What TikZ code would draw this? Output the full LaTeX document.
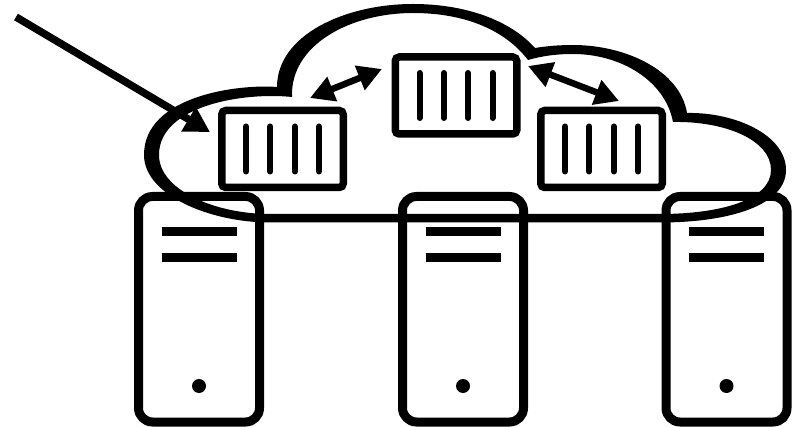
\documentclass[tikz,border=0pt]{standalone}
\usetikzlibrary{arrows.meta}
\tikzset{
  serverbox/.style={draw=black,line width=9pt,rounded corners=14pt,minimum width=121pt,minimum height=225.5pt,inner sep=0pt,outer sep=0pt},
  containerbox/.style={draw=black,line width=7.5pt,rounded corners=4pt,minimum width=121.5pt,minimum height=77pt,inner sep=0pt,outer sep=0pt},
  slat/.style={line width=6pt,line cap=round},
  serverbar/.style={line width=9pt},
  link/.style={line width=6.5pt,{Triangle[length=24pt,width=25pt]}-{Triangle[length=24pt,width=25pt]}},
  entry/.style={line width=7.5pt,-{Triangle[length=25pt,width=27pt]}},
}
\begin{document}
\begin{tikzpicture}[x=1pt,y=-1pt]
\useasboundingbox (0,0) rectangle (794,427);
% servers
\foreach \n/\x in {serverA/199,serverB/463,serverC/726.5}{
  \node[serverbox] (\n) at (\x,309.25) {};
  \draw[serverbar] ([xshift=-37.5pt,yshift=77.75pt]\n.center) -- ([xshift=37.5pt,yshift=77.75pt]\n.center);
  \draw[serverbar] ([xshift=-37.5pt,yshift=51.75pt]\n.center) -- ([xshift=37.5pt,yshift=51.75pt]\n.center);
  \fill ([yshift=-76.75pt]\n.center) circle (7pt);
}
% cloud
\fill[black,even odd rule]
  (277,87) .. controls (240,84) and (144,95) .. (144,155)
  .. controls (144,195) and (210,222.5) .. (270,222.5)
  -- (660,222.5)
  .. controls (730,222.5) and (786,205) .. (786,170)
  .. controls (786,135) and (735,112) .. (687,113)
  .. controls (680,70) and (625,45) .. (573,45)
  .. controls (560,45) and (547,46) .. (535,48)
  .. controls (510,20) and (465,4) .. (413,4)
  .. controls (345,4) and (277,35) .. (277,87) -- cycle
  (292,97) .. controls (245,92) and (159,105) .. (159,155)
  .. controls (159,190) and (215,214) .. (270,214)
  -- (660,214)
  .. controls (720,214) and (771,200) .. (771,170)
  .. controls (771,140) and (725,121) .. (673,122)
  .. controls (665,80) and (620,54) .. (573,54)
  .. controls (556,54) and (542,56) .. (528,60)
  .. controls (505,30) and (465,13) .. (413,13)
  .. controls (350,13) and (290,45) .. (292,97) -- cycle;
% containers
\foreach \n/\x/\y in {contA/282.5/149,contB/456/95.5,contC/601.5/149}{
  \node[containerbox] (\n) at (\x,\y) {};
  \foreach \d in {-36.5,-12.2,12.2,36.5}{
    \draw[slat] ([xshift=\d pt,yshift=22.5pt]\n.center) -- ([xshift=\d pt,yshift=-22.5pt]\n.center);
  }
}
% arrows
\coordinate (l1) at (310,98);
\coordinate (l2) at (382,69);
\coordinate (r1) at (528,66);
\coordinate (r2) at (619,101);
\coordinate (src) at (16,17);
\coordinate (dst) at (210,132);
\draw[link] (l1) -- (l2);
\draw[link] (r1) -- (r2);
\draw[entry] (src) -- (dst);
\end{tikzpicture}
\end{document}
